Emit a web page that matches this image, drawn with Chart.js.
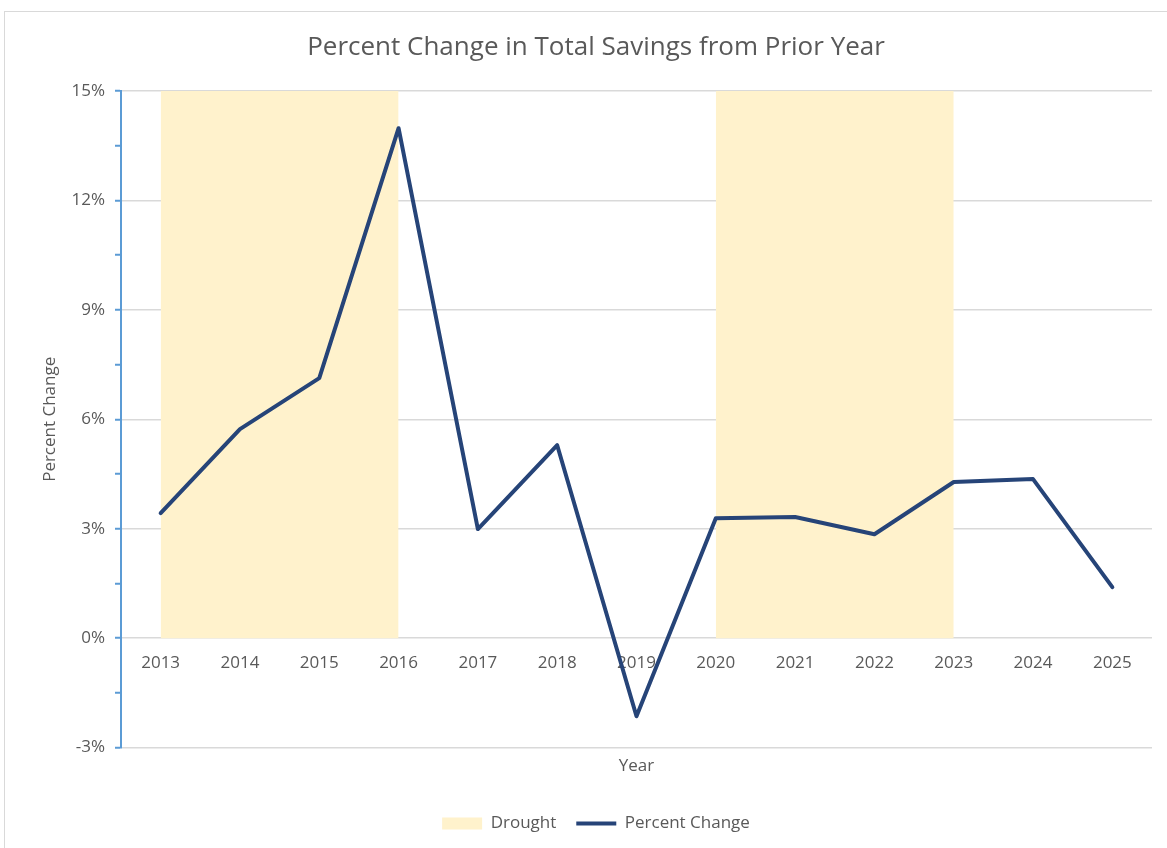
<!DOCTYPE html>
<html>
<head>
<meta charset="utf-8">
<script src="https://cdn.jsdelivr.net/npm/chart.js@4"></script>
<style>
  body { margin: 0; background: #fff; overflow: hidden; }
  #frame { position: absolute; left: 4px; top: 11px; width: 1200px; height: 900px; border: 1px solid #d9d9d9; }
  #savings { position: absolute; left: 0; top: 0; }
</style>
</head>
<body>
<div id="frame"></div>
<canvas id="savings" width="1167" height="848"></canvas>
<script>
// chart values
var years = ["2013", "2014", "2015", "2016", "2017", "2018", "2019", "2020", "2021", "2022", "2023", "2024", "2025"];
var percentChange = [3.43, 5.73, 7.13, 13.98, 2.99, 5.29, -2.14, 3.29, 3.32, 2.85, 4.28, 4.36, 1.40];
var droughtYears = [1, 1, 1, 1, 0, 0, 0, 1, 1, 1, 1, 0, 0];
var droughtTop = 15;
var yMin = -3, yMax = 15, yLabelStep = 3;

var textGrey = "#595959";
var font = "'Open Sans', sans-serif";

var droughtBand = droughtYears.map(function(d) { return d ? droughtTop : null; });

var ctx = document.getElementById("savings").getContext("2d");
var chart = new Chart(ctx, {
  type: "line",
  data: {
    labels: years,
    datasets: [
      {
        label: "Drought",
        data: droughtBand,
        backgroundColor: "#fff2cc",
        borderColor: "#fff2cc",
        borderWidth: 0,
        pointRadius: 0,
        pointStyle: "rect",
        fill: "origin",
        spanGaps: false,
        order: 2
      },
      {
        label: "Percent Change",
        data: percentChange,
        borderColor: "#264478",
        backgroundColor: "#264478",
        borderWidth: 4,
        borderCapStyle: "round",
        borderJoinStyle: "round",
        pointRadius: 0,
        pointStyle: "line",
        tension: 0,
        fill: false,
        order: 1
      }
    ]
  },
  options: {
    responsive: false,
    animation: false,
    devicePixelRatio: 1,
    layout: { padding: { left: 40, right: 15, top: 0, bottom: 6 } },
    plugins: {
      tooltip: { enabled: false },
      title: {
        display: true,
        text: "Percent Change in Total Savings from Prior Year",
        color: textGrey,
        font: { family: font, size: 26, weight: "normal" },
        padding: { top: 31.5, bottom: 28.3 }
      },
      legend: {
        position: "bottom",
        labels: {
          usePointStyle: true,
          pointStyleWidth: 40,
          boxHeight: 12,
          padding: 20,
          color: textGrey,
          font: { family: font, size: 17 },
          sort: function(a, b) { return a.datasetIndex - b.datasetIndex; }
        }
      }
    },
    scales: {
      x: {
        type: "category",
        offset: true,
        position: { y: 0 },
        grid: { display: false, drawTicks: false },
        border: { display: false },
        ticks: { color: textGrey, font: { family: font, size: 17 }, padding: 15, maxRotation: 0 }
      },
      x2: {
        type: "category",
        labels: years,
        offset: true,
        position: "bottom",
        grid: { display: false, drawTicks: false },
        border: { display: false },
        ticks: { display: false },
        title: {
          display: true,
          text: "Year",
          color: textGrey,
          font: { family: font, size: 17 },
          padding: { top: 8, bottom: 19 }
        }
      },
      y: {
        min: yMin,
        max: yMax,
        afterFit: function(scale) { scale.width = 81; },
        border: { display: true, color: "#5b9bd5", width: 2 },
        grid: {
          color: function(c) { return c.tick && c.tick.value % yLabelStep === 0 ? "#d9d9d9" : "rgba(0,0,0,0)"; },
          lineWidth: 1.5,
          drawTicks: true,
          tickLength: 6,
          tickColor: "#5b9bd5",
          tickWidth: 2
        },
        ticks: {
          stepSize: 1.5,
          color: textGrey,
          font: { family: font, size: 17 },
          padding: 10,
          callback: function(v) { return v % yLabelStep === 0 ? v + "%" : ""; }
        },
        title: {
          display: true,
          text: "Percent Change",
          color: textGrey,
          font: { family: font, size: 17 },
          padding: { top: 0 }
        }
      }
    }
  }
});
</script>
</body>
</html>
